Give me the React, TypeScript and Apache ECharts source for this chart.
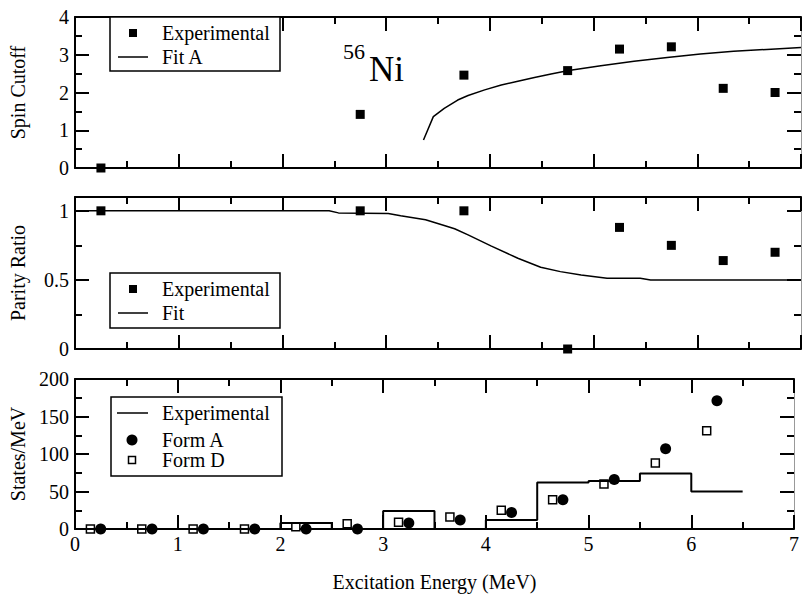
import React, { useEffect, useRef } from 'react';
import * as echarts from 'echarts';

// Spin cutoff panel
const spinExpX = [0.25, 2.75, 3.75, 4.75, 5.25, 5.75, 6.25, 6.75];
const spinExpY = [0, 1.42, 2.46, 2.58, 3.15, 3.21, 2.11, 2.0];
const spinFitX = [3.36, 3.455, 3.56, 3.69, 3.79, 3.95, 4.11, 4.27, 4.43, 4.59, 4.76, 5.07, 5.39, 5.71, 6.03, 6.35, 6.67, 7.0];
const spinFitY = [0.74, 1.36, 1.58, 1.8, 1.92, 2.07, 2.2, 2.3, 2.4, 2.49, 2.58, 2.71, 2.83, 2.93, 3.02, 3.09, 3.14, 3.19];

// Parity ratio panel
const parityExpX = [0.25, 2.75, 3.75, 4.75, 5.25, 5.75, 6.25, 6.75];
const parityExpY = [1, 1, 1, 0, 0.88, 0.75, 0.64, 0.7];
const parityFitX = [0, 2.45, 2.54, 3.02, 3.14, 3.38, 3.56, 3.66, 3.79, 4.01, 4.27, 4.49, 4.68, 4.88, 5.13, 5.45, 5.55, 7.0];
const parityFitY = [1, 1, 0.985, 0.98, 0.964, 0.935, 0.894, 0.87, 0.826, 0.746, 0.657, 0.592, 0.56, 0.536, 0.512, 0.512, 0.5, 0.5];

// Level density panel: 0.5 MeV bins
const binStarts = [0, 0.5, 1.0, 1.5, 2.0, 2.5, 3.0, 3.5, 4.0, 4.5, 5.0, 5.5, 6.0];
const binWidth = 0.5;
const binDensity = [0, 0, 0, 0, 8, 0, 24, 0, 12, 62, 64, 74, 50];
const formAX = [0.25, 0.75, 1.25, 1.75, 2.25, 2.75, 3.25, 3.75, 4.25, 4.75, 5.25, 5.75, 6.25];
const formAY = [0, 0, 0, 0, 0, 0, 8, 12, 22, 39, 66, 107, 171];
const formDX = [0.15, 0.65, 1.15, 1.65, 2.15, 2.65, 3.15, 3.65, 4.15, 4.65, 5.15, 5.65, 6.15];
const formDY = [0, 0, 0, 0, 3, 7, 9, 16, 25, 39, 60, 88, 131];

const xTicks = [0, 1, 2, 3, 4, 5, 6, 7];

const FONT = 'Liberation Serif';
const BLACK = '#000';

const zip = (xs: number[], ys: number[]) => xs.map((x, i) => [x, ys[i]]);

function makeXAxes(grid: number, showLabels: boolean, name?: string) {
  const base = {
    type: 'value' as const,
    gridIndex: grid,
    min: xTicks[0],
    max: xTicks[xTicks.length - 1],
    interval: 1,
    axisLine: { show: true, onZero: false, lineStyle: { color: BLACK, width: 2 } },
    axisTick: { show: true, inside: true, length: 14, lineStyle: { color: BLACK, width: 2 } },
    minorTick: { show: true, splitNumber: 2, length: 7, lineStyle: { color: BLACK, width: 2 } },
    splitLine: { show: false },
    minorSplitLine: { show: false },
  };
  return [
    {
      ...base,
      position: 'bottom',
      axisLabel: {
        show: showLabels,
        margin: 5,
        fontSize: 20,
        fontFamily: FONT,
        color: BLACK,
        alignMinLabel: 'center',
        alignMaxLabel: 'center',
      },
      name: name || '',
      nameLocation: 'middle',
      nameGap: 43,
      nameTextStyle: { fontSize: 20, fontFamily: FONT, color: BLACK },
    },
    { ...base, position: 'top', axisLabel: { show: false } },
  ];
}

function makeYAxis(
  grid: number,
  side: 'left' | 'right',
  min: number,
  max: number,
  interval: number,
  opts: { name?: string; labels?: boolean; minor?: boolean; tickLen?: number; line?: boolean } = {}
) {
  const { name = '', labels = false, minor = true, tickLen = 14, line = true } = opts;
  return {
    type: 'value',
    gridIndex: grid,
    position: side,
    min,
    max,
    interval,
    axisLine: {
      show: line,
      onZero: false,
      lineStyle: side === 'left' ? { color: BLACK, width: 2 } : { color: '#999', width: 1 },
    },
    axisTick: { show: true, inside: true, length: tickLen, lineStyle: { color: BLACK, width: 2 } },
    minorTick: { show: minor, splitNumber: 2, length: 7, lineStyle: { color: BLACK, width: 2 } },
    axisLabel: {
      show: labels,
      margin: 6,
      fontSize: 20,
      fontFamily: FONT,
      color: BLACK,
      formatter: (v: number) => {
        const k = v / interval;
        return Math.abs(k - Math.round(k)) < 1e-6 ? String(+v.toFixed(2)) : '';
      },
    },
    splitLine: { show: false },
    minorSplitLine: { show: false },
    name,
    nameLocation: 'middle',
    nameGap: 47,
    nameTextStyle: { fontSize: 20, fontFamily: FONT, color: BLACK },
  };
}

// Stepped outline of the binned experimental density
function histogramPoints() {
  const pts = binStarts.map((x, i) => [x, binDensity[i]]);
  const last = binStarts.length - 1;
  pts.push([binStarts[last] + binWidth, binDensity[last]]);
  return pts;
}

const legendText = (x: number, y: number, text: string) => ({
  type: 'text',
  x,
  y,
  z: 101,
  style: { text, fontSize: 20, fontFamily: FONT, fill: BLACK, verticalAlign: 'middle', align: 'left' },
});
const legendBox = (x: number, y: number, w: number, h: number) => ({
  type: 'rect',
  z: 100,
  shape: { x, y, width: w, height: h },
  style: { fill: '#fff', stroke: BLACK, lineWidth: 1.5 },
});
const legendSquare = (cx: number, cy: number, s: number, filled: boolean) => ({
  type: 'rect',
  z: 101,
  shape: { x: cx - s / 2, y: cy - s / 2, width: s, height: s },
  style: filled ? { fill: BLACK } : { fill: '#fff', stroke: BLACK, lineWidth: 1.5 },
});
const legendLine = (x1: number, x2: number, y: number) => ({
  type: 'line',
  z: 101,
  shape: { x1, y1: y, x2, y2: y },
  style: { stroke: BLACK, lineWidth: 1.5 },
});

const option = {
  animation: false,
  backgroundColor: '#fff',
  textStyle: { fontFamily: FONT },
  grid: [
    { left: 73, top: 17, width: 728, height: 151 },
    { left: 73, top: 197, width: 728, height: 152 },
    { left: 73, top: 379, width: 728, height: 150 },
  ],
  xAxis: [
    ...makeXAxes(0, false),
    ...makeXAxes(1, false),
    ...makeXAxes(2, true, 'Excitation Energy (MeV)'),
  ],
  yAxis: [
    makeYAxis(0, 'left', 0, 4, 1, { name: 'Spin Cutoff', labels: true }),
    makeYAxis(0, 'right', 0, 4, 1),
    makeYAxis(1, 'left', 0, 1.1, 0.5, { name: 'Parity Ratio', labels: true, minor: false }),
    makeYAxis(1, 'right', 0, 1.1, 0.5, { minor: false }),
    makeYAxis(1, 'left', 0, 1.1, 0.25, { minor: false, tickLen: 7, line: false }),
    makeYAxis(1, 'right', 0, 1.1, 0.25, { minor: false, tickLen: 7, line: false }),
    makeYAxis(2, 'left', 0, 200, 50, { name: 'States/MeV', labels: true }),
    makeYAxis(2, 'right', 0, 200, 50),
  ],
  series: [
    {
      name: 'Fit A',
      type: 'line',
      xAxisIndex: 0,
      yAxisIndex: 0,
      data: zip(spinFitX, spinFitY),
      showSymbol: false,
      symbol: 'none',
      lineStyle: { color: BLACK, width: 1.5 },
    },
    {
      name: 'Experimental',
      type: 'scatter',
      xAxisIndex: 0,
      yAxisIndex: 0,
      data: zip(spinExpX, spinExpY),
      symbol: 'rect',
      symbolSize: 9,
      clip: false,
      itemStyle: { color: BLACK, opacity: 1 },
    },
    {
      name: 'Fit',
      type: 'line',
      xAxisIndex: 2,
      yAxisIndex: 2,
      data: zip(parityFitX, parityFitY),
      showSymbol: false,
      symbol: 'none',
      lineStyle: { color: BLACK, width: 1.5 },
    },
    {
      name: 'Experimental',
      type: 'scatter',
      xAxisIndex: 2,
      yAxisIndex: 2,
      data: zip(parityExpX, parityExpY),
      symbol: 'rect',
      symbolSize: 9,
      clip: false,
      itemStyle: { color: BLACK, opacity: 1 },
    },
    {
      name: 'Experimental',
      type: 'line',
      xAxisIndex: 4,
      yAxisIndex: 6,
      data: histogramPoints(),
      step: 'end',
      showSymbol: false,
      symbol: 'none',
      lineStyle: { color: BLACK, width: 2 },
    },
    {
      name: 'Form D',
      type: 'scatter',
      xAxisIndex: 4,
      yAxisIndex: 6,
      data: zip(formDX, formDY),
      symbol: 'rect',
      symbolSize: 8,
      clip: false,
      itemStyle: { color: '#fff', borderColor: BLACK, borderWidth: 1.5, opacity: 1 },
    },
    {
      name: 'Form A',
      type: 'scatter',
      xAxisIndex: 4,
      yAxisIndex: 6,
      data: zip(formAX, formAY),
      symbol: 'circle',
      symbolSize: 11,
      clip: false,
      itemStyle: { color: BLACK, opacity: 1 },
    },
  ],
  graphic: [
    // nucleus label
    { type: 'text', x: 343, y: 51, z: 50, style: { text: '56', fontSize: 22, fontFamily: FONT, fill: BLACK, verticalAlign: 'middle' } },
    { type: 'text', x: 369, y: 69, z: 50, style: { text: 'Ni', fontSize: 35, fontFamily: FONT, fill: BLACK, verticalAlign: 'middle' } },
    // spin cutoff legend
    legendBox(110, 17, 170, 54),
    legendSquare(133, 33, 8, true),
    legendText(162, 33, 'Experimental'),
    legendLine(118, 148, 57),
    legendText(162, 57, 'Fit A'),
    // parity legend
    legendBox(110, 273, 170, 55),
    legendSquare(133, 289, 8, true),
    legendText(162, 289, 'Experimental'),
    legendLine(118, 148, 313),
    legendText(162, 313, 'Fit'),
    // density legend
    legendBox(111, 397, 171, 79),
    legendLine(117, 148, 413),
    legendText(162, 413, 'Experimental'),
    { type: 'circle', z: 101, shape: { cx: 132, cy: 440, r: 5.5 }, style: { fill: BLACK } },
    legendText(162, 440, 'Form A'),
    legendSquare(132, 460, 7, false),
    legendText(162, 460, 'Form D'),
  ],
};

export default function App() {
  const ref = useRef<HTMLDivElement>(null);
  useEffect(() => {
    if (!ref.current) return;
    const chart = echarts.init(ref.current, null, { renderer: 'svg' });
    chart.setOption(option as any);
    return () => chart.dispose();
  }, []);
  return (
    <div
      ref={ref}
      style={{ position: 'fixed', left: 0, top: 0, width: 802, height: 597, background: '#fff' }}
    />
  );
}
